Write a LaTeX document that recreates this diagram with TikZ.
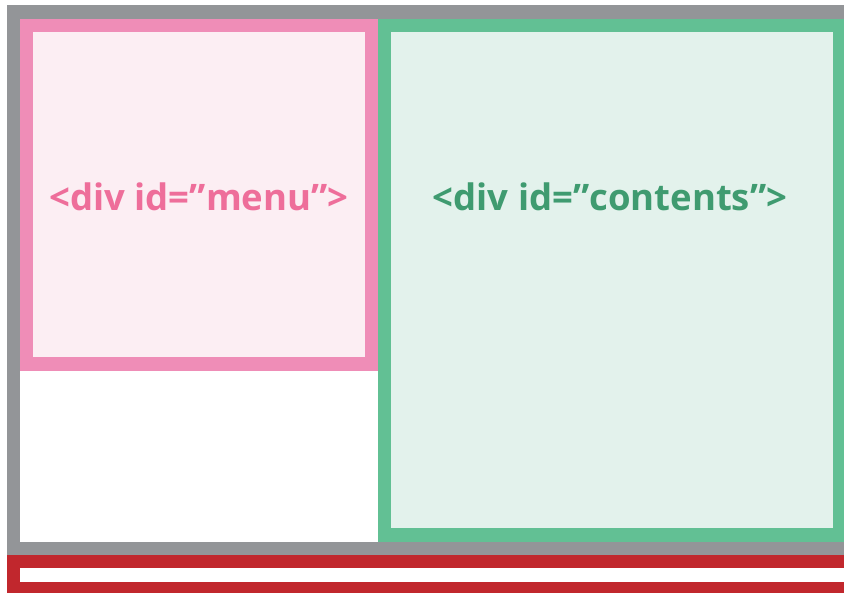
\documentclass[tikz,border=0pt]{standalone}
\usepackage{fontspec}
\setmainfont{Open Sans}
\definecolor{framegray}{HTML}{939598}
\definecolor{menuedge}{HTML}{EF8DB7}
\definecolor{menufill}{HTML}{FCEEF3}
\definecolor{menutext}{HTML}{EE6E9A}
\definecolor{contedge}{HTML}{62C094}
\definecolor{contfill}{HTML}{E3F2EC}
\definecolor{conttext}{HTML}{3F9B70}
\definecolor{footred}{HTML}{C1272D}
\tikzset{
  px/.style={x=1pt,y=-1pt},
  divlabel/.style={font=\bfseries\fontsize{36.5}{42}\selectfont, inner sep=0pt, anchor=center},
}
\begin{document}
\begin{tikzpicture}[px]
\useasboundingbox (0,0) rectangle (844,593);
\clip (0,0) rectangle (844,593);
% page frame
\fill[framegray] (7,5) rectangle (870,555);
\fill[white] (20,19) rectangle (857,542);
% menu column
\fill[menuedge] (20,19) rectangle (378,371);
\fill[menufill] (33,32) rectangle (365,357);
% contents column
\fill[contedge] (378,19) rectangle (846,542);
\fill[contfill] (391,32) rectangle (833,528);
% footer strip
\fill[footred] (7,555) rectangle (870,600);
\fill[white] (20,568) rectangle (857,582);
% labels
\node[divlabel, text=menutext] (menu) at (199,197) {<div id=”menu”>};
\node[divlabel, text=conttext] (contents) at (610,197) {<div id=”contents”>};
\end{tikzpicture}
\end{document}
